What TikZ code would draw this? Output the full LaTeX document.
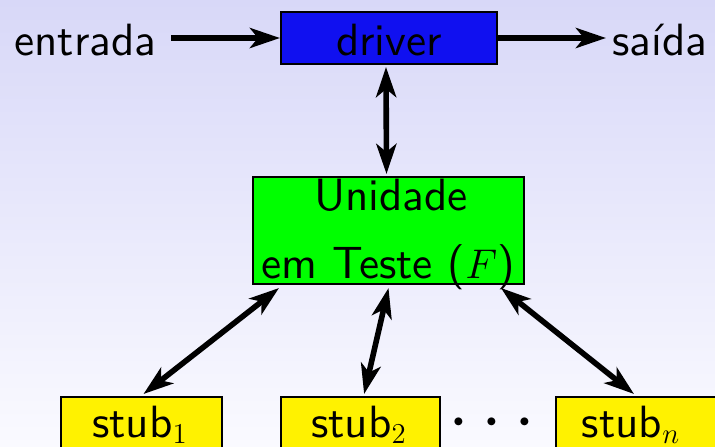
\documentclass[tikz,border=0pt]{standalone}
\usepackage{fontspec}
\usetikzlibrary{arrows.meta}
% Latin Modern Sans at its 10pt design size, scaled up
\newfontfamily\lmsten{lmsans10-regular.otf}
\definecolor{bgtop}{RGB}{216,216,248}
\definecolor{bgbot}{RGB}{250,250,255}
\definecolor{drvblue}{RGB}{16,16,240}
\definecolor{unitgreen}{RGB}{0,255,0}
\definecolor{stubyellow}{RGB}{255,242,0}
\tikzset{
  txt/.style={font=\lmsten\fontsize{22.6}{27}\selectfont, inner sep=0pt},
  box/.style={draw=black, line width=1pt, inner sep=0pt},
  stubbox/.style={box, fill=stubyellow, minimum width=80pt, minimum height=40pt, anchor=north},
  arr/.style={line width=2.8pt, -{Stealth[length=15pt, width=10pt, inset=4pt]}},
  dbl/.style={line width=2.8pt, {Stealth[length=15pt, width=10pt, inset=4pt]}-{Stealth[length=15pt, width=10pt, inset=4pt]}},
}
\begin{document}
\begin{tikzpicture}[x=0.5pt, y=-0.5pt]
\useasboundingbox (0,0) rectangle (715,446);
\begin{scope}
\clip (0,0) rectangle (715,446);
% background
\shade[top color=bgtop, bottom color=bgbot] (0,0) rectangle (715,446);

% driver and its input/output
\node[box, fill=drvblue, minimum width=108pt, minimum height=26pt] (drv) at (389,38) {};
\node[txt, anchor=base] (drvt) at (389,55) {driver};
\node[txt, anchor=base east] (in) at (157,55) {entrada};
\node[txt, anchor=base west] (out) at (612,55) {saída};
\draw[arr] ([xshift=7pt]in.east |- drv.west) -- (drv.west);
\draw[arr] (drv.east) -- ([xshift=-3pt]out.west |- drv.east);

% unit under test
\node[box, fill=unitgreen, minimum width=135.5pt, minimum height=53.5pt] (ut) at (388.5,230.5) {};
\node[txt, anchor=base] (ut1) at (391,210) {Unidade};
\node[txt, anchor=base] (ut2) at (388,278) {em Teste ($F$)};
\draw[dbl] ([xshift=-1.5pt, yshift=-1pt]drv.south) -- ([xshift=-1pt, yshift=1pt]ut.north);

% stubs
\node[stubbox, minimum width=80.5pt] (s1) at (141.5,396) {};
\node[txt, anchor=base] (s1t) at (140,437) {stub$_1$};
\node[stubbox, minimum width=79.5pt] (s2) at (360.5,396) {};
\node[txt, anchor=base] (s2t) at (359,437) {stub$_2$};
\node[stubbox] (sn) at (636,396) {};
\node[txt, anchor=base] (snt) at (631,437) {stub$_n$};
\node[txt, anchor=base] (dots) at (492,440) {\scalebox{1.8}{$\cdots$}};

\draw[dbl] ([xshift=13.5pt, yshift=-1.5pt]ut.south west) -- ([xshift=1pt, yshift=1pt]s1.north);
\draw[dbl] ([yshift=-1.5pt]ut.south) -- ([xshift=1.8pt, yshift=1pt]s2.north);
\draw[dbl] ([xshift=-12pt, yshift=-1.5pt]ut.south east) -- ([xshift=-1pt, yshift=1pt]sn.north);
\end{scope}
\end{tikzpicture}
\end{document}
